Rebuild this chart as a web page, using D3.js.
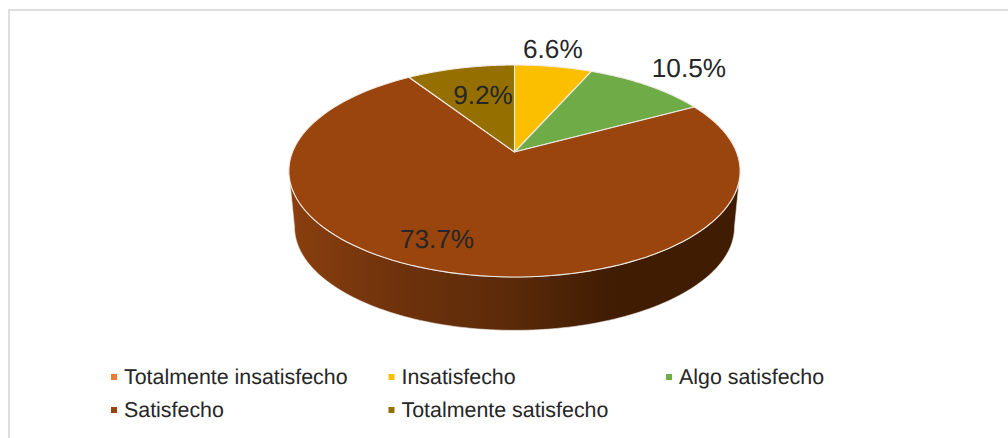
<!DOCTYPE html>
<html>
<head>
<meta charset="utf-8">
<script src="https://cdn.jsdelivr.net/npm/d3@7/dist/d3.min.js"></script>
<style>
html,body{margin:0;padding:0;background:#fff;overflow:hidden}
text{font-family:"Liberation Sans",Arial,sans-serif;fill:#262626;text-rendering:geometricPrecision}
</style>
</head>
<body>
<svg id="chart" width="1008" height="438"></svg>
<script>
// Satisfaction survey shares
const categories = ["Totalmente insatisfecho","Insatisfecho","Algo satisfecho","Satisfecho","Totalmente satisfecho"];
const values = [0, 6.6, 10.5, 73.7, 9.2];
const colors = ["#ED7D31","#FCBF00","#6FAC48","#99450D","#957000"];

// Label nudges from the rim point of each slice
const labelNudge = [null,[0,-8.5],[42,-8],[-11,-24],[23,36]];

const svg = d3.select("#chart");
const TAU = Math.PI*2;

// Frame of the chart area, open on the right and at the bottom
svg.append("path")
  .attr("d","M9,438V10H1008")
  .attr("fill","none").attr("stroke","#dedede").attr("stroke-width",2);

// Perspective projection of a tilted disc; angle 0 is at the top, clockwise
const apex = {x:514.5, y:152};
const tilt = 0.179, radX = 222, radY = 102.6;
function project(theta, r=1, scale=1, dy=0){
  const s = Math.sin(theta)*r, c = Math.cos(theta)*r, w = 1 + tilt*c;
  return [apex.x + scale*radX*s/w, apex.y + dy + scale*radY*(-c)/w];
}

const pie = d3.pie().sort(null).value(d=>d).startAngle(0).endAngle(TAU);
const arcs = pie(values);
const line = d3.line();
const samples = (a0,a1,f) => d3.range(0,121).map(i=>f(a0+(a1-a0)*i/120));

// Side wall of the cylinder: the visible front half of the rim
const sideEdge = Math.acos(-tilt);            // angle of the widest point
const wallScale = 0.975, wallDy = 56.5;
const upper = samples(sideEdge, TAU-sideEdge, t=>project(t));
const lower = samples(TAU-sideEdge, sideEdge, t=>project(t,1,wallScale,wallDy));

const defs = svg.append("defs");
const wallX = d3.scaleLinear().domain([0,1]).range([289,741]);
const grad = defs.append("linearGradient").attr("id","wall")
  .attr("gradientUnits","userSpaceOnUse")
  .attr("x1",wallX(0)).attr("x2",wallX(1)).attr("y1",0).attr("y2",0);
[[0,"#8A3F0E"],[0.25,"#6E320C"],[0.5,"#5A2A09"],[0.72,"#3F1C02"],[1,"#3F1C02"]]
  .forEach(([o,c])=>grad.append("stop").attr("offset",o).attr("stop-color",c));

svg.append("path")
  .attr("d",line(upper.concat(lower))+"Z")
  .attr("fill","url(#wall)")
  .attr("stroke","#efe9e4").attr("stroke-width",0.6);

// Top face slices
svg.append("g").selectAll("path").data(arcs).join("path")
  .attr("d",d=>line([[apex.x,apex.y]].concat(samples(d.startAngle,d.endAngle,t=>project(t))))+"Z")
  .attr("fill",(d,i)=>colors[i])
  .attr("stroke","#f3ece6").attr("stroke-width",1.1).attr("stroke-linejoin","round");

// Value labels
const fmt = d3.format(".1f");
svg.append("g").selectAll("text").data(arcs.filter(d=>d.value>0)).join("text")
  .attr("x",d=>project((d.startAngle+d.endAngle)/2)[0]+labelNudge[d.index][0]-0.5)
  .attr("y",d=>project((d.startAngle+d.endAngle)/2)[1]+labelNudge[d.index][1])
  .attr("text-anchor","middle")
  .attr("font-size",26.2)
  .text(d=>fmt(d.value)+"%");

// Legend, three columns over two rows
const legendCol = d3.scalePoint().domain([0,1,2]).range([111,666]);
const legendRow = d3.scalePoint().domain([0,1]).range([377,410]);
const legend = svg.append("g").selectAll("g").data(categories).join("g")
  .attr("transform",(d,i)=>`translate(${legendCol(i%3)},${legendRow(Math.floor(i/3))})`);
legend.append("rect").attr("x",0).attr("y",-3).attr("width",6).attr("height",6)
  .attr("fill",(d,i)=>colors[i]);
legend.append("text").attr("x",13).attr("y",7).attr("font-size",21.4).text(d=>d);
</script>
</body>
</html>
